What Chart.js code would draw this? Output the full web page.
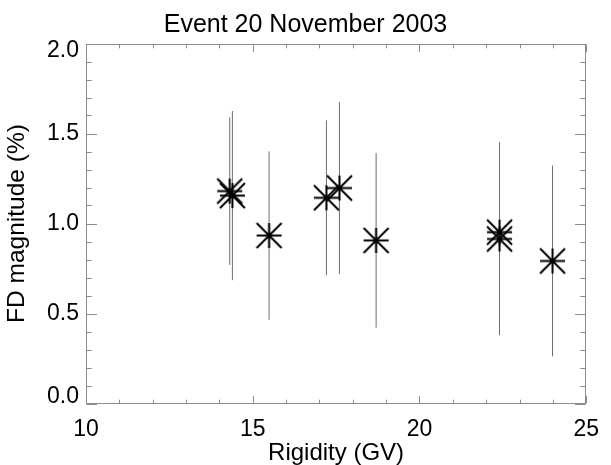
<!DOCTYPE html>
<html><head><meta charset="utf-8">
<script src="https://cdn.jsdelivr.net/npm/chart.js@4"></script>
<style>html,body{margin:0;padding:0;background:#fff}</style>
</head><body>
<canvas id="c" width="611" height="465" style="display:block;width:611px;height:465px"></canvas>
<script>
const rigidity    = [14.31, 14.39, 15.49, 17.21, 17.60, 18.70, 22.40, 22.40, 23.99];
const fdMagnitude = [1.180, 1.155, 0.933, 1.143, 1.197, 0.906, 0.952, 0.914, 0.792];
const fdError     = [0.410, 0.470, 0.468, 0.430, 0.478, 0.485, 0.500, 0.535, 0.530];
const xTickValues = [10, 15, 20, 25];
const yTickValues = [0.0, 0.5, 1.0, 1.5, 2.0];
const chartTitle = 'Event 20 November 2003';
const xTitle = 'Rigidity (GV)';
const yTitle = 'FD magnitude (%)';

const FONT = "'Liberation Sans', Arial, Helvetica, sans-serif";

// IDL-style asterisk marker
function makeStar(half, lw) {
  const s = Math.ceil(half * 2 + lw + 2);
  const c = document.createElement('canvas');
  c.width = s; c.height = s;
  const g = c.getContext('2d');
  const m = s / 2;
  g.strokeStyle = '#000'; g.lineWidth = lw; g.lineCap = 'butt';
  g.beginPath();
  g.moveTo(m - half, m); g.lineTo(m + half, m);
  g.moveTo(m, m - half); g.lineTo(m, m + half);
  g.moveTo(m - half, m - half); g.lineTo(m + half, m + half);
  g.moveTo(m + half, m - half); g.lineTo(m - half, m + half);
  g.stroke();
  return c;
}
const star = makeStar(12.5, 2);

const frameTicks = {
  id: 'frameTicks',
  beforeDatasetsDraw(chart) {
    const {ctx, chartArea: a, scales: {x, y}} = chart;
    const L = Math.round(a.left) + 0.5, R = Math.round(a.right) - 0.5;
    const T = Math.round(a.top) + 0.5, B = Math.round(a.bottom) - 0.5;
    ctx.save();
    ctx.strokeStyle = '#8c8c8c';
    ctx.lineWidth = 1;
    ctx.strokeRect(L, T, R - L, B - T);
    ctx.beginPath();
    for (let i = 0; i <= Math.round(x.max - x.min); i++) {
      const v = x.min + i;
      const px = Math.round(x.getPixelForValue(v)) + 0.5;
      const len = (i % 5 === 0) ? 7.5 : 3.8;
      ctx.moveTo(px, B); ctx.lineTo(px, B - len);
      ctx.moveTo(px, T); ctx.lineTo(px, T + len);
    }
    for (let i = 0; i <= Math.round((y.max - y.min) * 10); i++) {
      const v = y.min + i / 10;
      const py = Math.round(y.getPixelForValue(v)) + 0.5;
      const len = (i % 5 === 0) ? 10.5 : 5.2;
      ctx.moveTo(L, py); ctx.lineTo(L + len, py);
      ctx.moveTo(R, py); ctx.lineTo(R - len, py);
    }
    ctx.stroke();
    ctx.restore();
  }
};

const errorBars = rigidity.map((xv, i) => ({
  type: 'line',
  data: [{x: xv, y: fdMagnitude[i] - fdError[i]}, {x: xv, y: fdMagnitude[i] + fdError[i]}],
  borderColor: '#6e6e6e',
  borderWidth: 1,
  pointRadius: 0,
  showLine: true,
  fill: false,
  order: 2
}));

const stars = {
  type: 'scatter',
  data: rigidity.map((xv, i) => ({x: xv, y: fdMagnitude[i]})),
  pointStyle: star,
  pointRadius: 12,
  showLine: false,
  order: 1
};

const yMin = yTickValues[0], yMax = yTickValues[yTickValues.length - 1];

new Chart(document.getElementById('c'), {
  type: 'scatter',
  data: { datasets: [...errorBars, stars] },
  options: {
    responsive: false,
    devicePixelRatio: 1,
    animation: false,
    events: [],
    layout: { padding: 0 },
    plugins: {
      legend: { display: false },
      tooltip: { enabled: false },
      title: {
        display: true,
        text: chartTitle,
        color: '#000',
        font: { family: FONT, size: 25, weight: 'normal', lineHeight: 1.2 },
        padding: { top: 10, bottom: 3.5 }
      }
    },
    scales: {
      x: {
        type: 'linear', min: 10, max: 25,
        afterBuildTicks(s) { s.ticks = xTickValues.map(v => ({value: v})); },
        afterFit(s) { s.height = 61.5; },
        grid: { display: false, drawTicks: false },
        border: { display: false },
        ticks: { color: '#000', padding: 12, font: { family: FONT, size: 23 }, maxRotation: 0,
                 callback: v => String(v) },
        title: { display: true, text: xTitle, color: '#000', padding: { top: 0, bottom: 0 },
                 font: { family: FONT, size: 24, lineHeight: 1 } }
      },
      y: {
        type: 'linear', min: yMin, max: yMax,
        afterBuildTicks(s) { s.ticks = yTickValues.map(v => ({value: v})); },
        afterFit(s) { s.width = 86; },
        grid: { display: false, drawTicks: false },
        border: { display: false },
        ticks: {
          color: '#000', padding: 7,
          font: (ctx) => {
            const v = ctx.tick ? ctx.tick.value : null;
            const edge = (v === yMin || v === yMax);
            return { family: FONT, size: 23, lineHeight: edge ? '14px' : 1.2 };
          },
          callback: (v) => {
            const s = Number(v).toFixed(1);
            if (v === yMax) return ['', s];
            if (v === yMin) return [s, ''];
            return s;
          }
        },
        title: { display: true, text: yTitle, color: '#000', padding: { top: 5, bottom: 0 },
                 font: { family: FONT, size: 24.5, lineHeight: 1 } }
      },
      yRight: {
        type: 'linear', position: 'right', min: yMin, max: yMax,
        afterFit(s) { s.width = 15; },
        grid: { display: false, drawTicks: false },
        border: { display: false },
        ticks: { display: false }
      }
    }
  },
  plugins: [frameTicks]
});
</script>
</body></html>
